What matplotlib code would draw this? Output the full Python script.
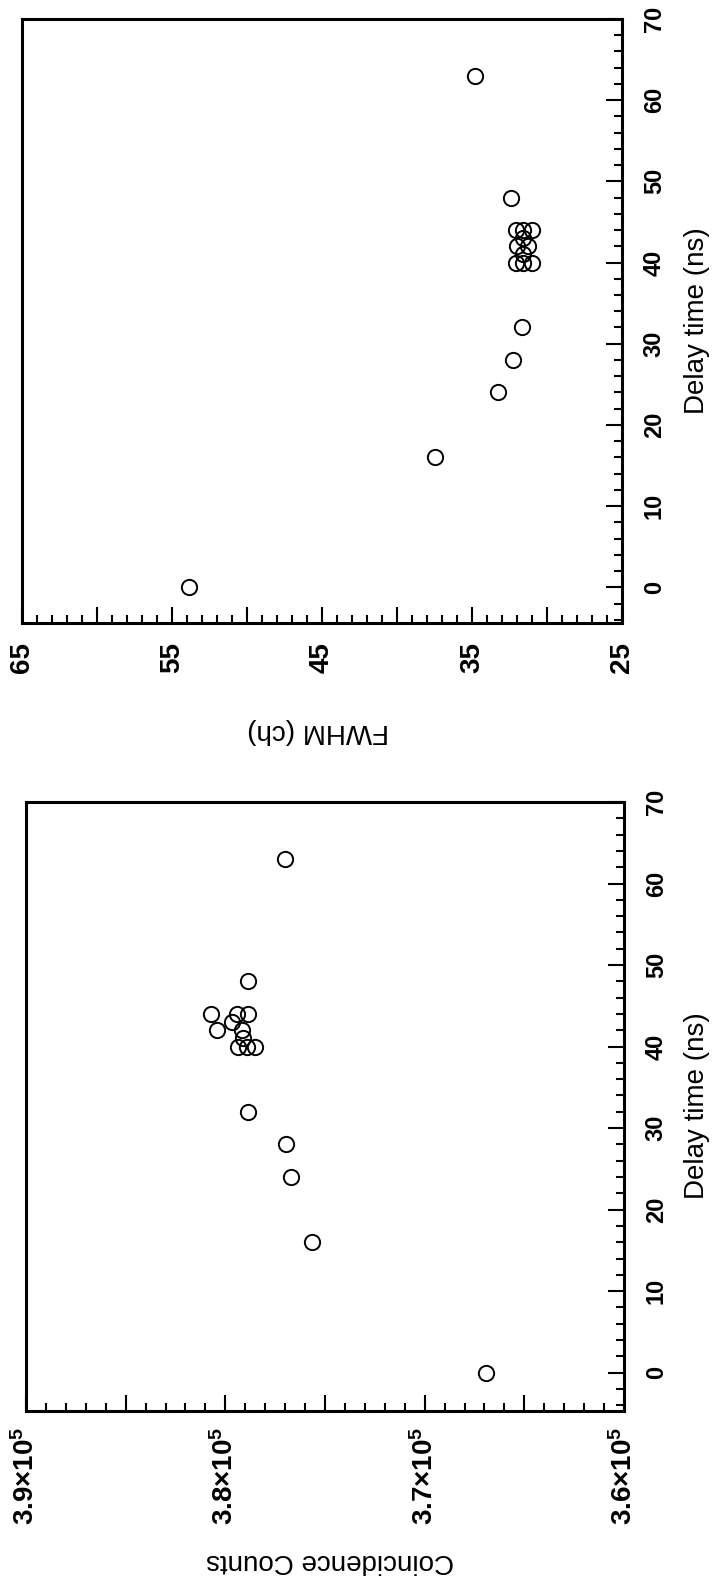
import matplotlib
matplotlib.use("Agg")
import matplotlib.pyplot as plt
from matplotlib.ticker import MultipleLocator, FixedLocator, FuncFormatter

plt.rcParams['font.family'] = ['Liberation Sans', 'DejaVu Sans']
plt.rcParams['mathtext.default'] = 'regular'

# ---- data ----
fwhm_delay = [0, 16, 24, 28, 32, 40, 40, 40, 41, 42, 42, 43, 44, 44, 44, 48, 63]
fwhm_values = [53.9, 37.5, 33.3, 32.3, 31.7, 32.1, 31.6, 31.0, 31.6, 32.0, 31.3,
               31.6, 32.1, 31.6, 31.0, 32.4, 34.8]

counts_delay = [0, 16, 24, 28, 32, 40, 40, 40, 41, 42, 42, 43, 44, 44, 44, 48, 63]
counts_values = [366900, 375650, 376730, 376950, 378860, 379350, 378930, 378510,
                 379100, 380400, 379180, 379680, 380730, 379400, 378850, 378850, 377030]

fwhm_ticks = [25, 30, 35, 40, 45, 50, 55, 60, 65]
fwhm_labels = ['25', '35', '45', '55', '65']
count_labels = [360000, 370000, 380000, 390000]

W, H = 714, 1580
fig = plt.figure(figsize=(W / 100, H / 100), dpi=100)


def frac_rect(l, t, r, b):
    return [l / W, 1 - b / H, (r - l) / W, (b - t) / H]


ax1 = fig.add_axes(frac_rect(22, 19, 622, 623))
ax2 = fig.add_axes(frac_rect(26, 802, 624, 1411))

mk = dict(linestyle='none', marker='o', markersize=11, markerfacecolor='none',
          markeredgecolor='black', markeredgewidth=1.4)
ax1.plot(fwhm_values, fwhm_delay, **mk)
ax2.plot(counts_values, counts_delay, **mk)

# FWHM axis
ax1.set_xlim(65, 25)
ax1.set_ylim(-4.4, 70)
ax1.xaxis.set_major_locator(FixedLocator(fwhm_ticks))
ax1.xaxis.set_minor_locator(MultipleLocator(1))
ax1.xaxis.set_major_formatter(FuncFormatter(
    lambda v, p: f'{v:.0f}' if f'{v:.0f}' in fwhm_labels else ''))

# counts axis
ax2.set_xlim(390000, 360000)
ax2.set_ylim(-4.7, 70)
ax2.xaxis.set_major_locator(MultipleLocator(5000))
ax2.xaxis.set_minor_locator(MultipleLocator(1000))
ax2.xaxis.set_major_formatter(FuncFormatter(
    lambda v, p: (f'{v/1e5:.1f}' + '×10$^5$') if round(v) in count_labels else ''))

for ax in (ax1, ax2):
    ax.yaxis.set_major_locator(MultipleLocator(10))
    ax.yaxis.set_minor_locator(MultipleLocator(2))
    for s in ax.spines.values():
        s.set_linewidth(2.2)
    ax.tick_params(axis='x', which='both', direction='in', bottom=True, top=False,
                   labelbottom=True, labelrotation=90, width=1.5, labelsize=20)
    ax.tick_params(axis='y', which='both', direction='in', left=False, right=True,
                   labelleft=False, labelright=True, labelrotation=90, width=1.5,
                   labelsize=17, pad=15)
    ax.tick_params(which='major', length=11.5)
    ax.tick_params(which='minor', length=5.8)
    for lbl in ax.get_yticklabels():
        lbl.set_verticalalignment('center')
        lbl.set_fontweight('bold')
    for lbl in ax.get_xticklabels():
        lbl.set_fontweight('bold')

ax1.tick_params(axis='x', pad=14)
ax2.tick_params(axis='x', pad=11.5)

# axis titles
fig.text(697 / W, 1 - 321 / H, 'Delay time (ns)', rotation=90, ha='center', va='center',
         fontsize=20)
fig.text(697 / W, 1 - 1106 / H, 'Delay time (ns)', rotation=90, ha='center', va='center',
         fontsize=20)
fig.text(318 / W, 1 - 731 / H, 'FWHM (ch)', rotation=180, ha='center', va='center',
         fontsize=20)
fig.text(330 / W, 1 - 1561 / H, 'Coincidence Counts', rotation=180, ha='center',
         va='center', fontsize=20)

fig.savefig('out.png', dpi=100)
